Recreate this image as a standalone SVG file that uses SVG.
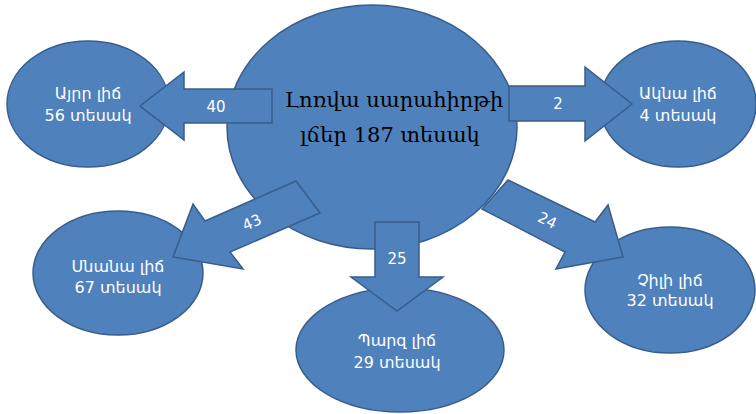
<svg xmlns="http://www.w3.org/2000/svg" width="756" height="414" viewBox="0 0 756 414">
<style>
.n{fill:#4F81BD;stroke:#385D8A;stroke-width:1.5}
.a{fill:#4F81BD;stroke:#385D8A;stroke-width:1.5;stroke-linejoin:miter}
.t{font-family:"DejaVu Sans","Noto Sans",sans-serif;font-size:16px;fill:#FFFFFF;text-anchor:middle}
.l{font-family:"DejaVu Sans","Noto Sans",sans-serif;font-size:15px;fill:#FFFFFF;text-anchor:middle}
.c{font-family:"DejaVu Serif","Noto Serif",serif;font-size:21px;fill:#000000;text-anchor:middle}
</style>
<rect width="756" height="414" fill="#FFFFFF"/>
<g id="center">
<ellipse class="n" cx="372" cy="127" rx="145" ry="122"/>
</g>
<g id="ayrr">
<ellipse class="n" cx="88" cy="104" rx="81" ry="63"/>
<text class="t" x="88" y="99">Այրր  լիճ</text>
<text class="t" x="88" y="121">56 տեսակ</text>
</g>
<g id="akna">
<ellipse class="n" cx="678" cy="104" rx="78" ry="63"/>
<text class="t" x="678" y="99">Ակնա լիճ</text>
<text class="t" x="678" y="121">4 տեսակ</text>
</g>
<g id="snana">
<ellipse class="n" cx="118" cy="273" rx="85" ry="62"/>
<text class="t" x="118" y="272">Սնանա լիճ</text>
<text class="t" x="118" y="293">67 տեսակ</text>
</g>
<g id="parz">
<ellipse class="n" cx="400" cy="350" rx="104" ry="62"/>
<text class="t" x="397" y="346">Պարզ լիճ</text>
<text class="t" x="397" y="368">29 տեսակ</text>
</g>
<g id="chili">
<ellipse class="n" cx="670" cy="290" rx="85" ry="63"/>
<text class="t" x="670" y="286">Չիլի լիճ</text>
<text class="t" x="670" y="306">32 տեսակ</text>
</g>
<g id="connectors">
<polygon class="a" points="272,89 184,89 184,72 140,106 184,140 184,123 272,123"/>
<polygon class="a" points="509,86 585,86 585,67 632,104 585,141 585,121 509,121"/>
<polygon class="a" points="296,181 205,221 193,204 173,257 243,269 230,252 320,213"/>
<polygon class="a" points="375,222 419,222 419,277 443,277 397,311 351,277 375,277"/>
<polygon class="a" points="508,180 595,222 608,205 623,257 556,269 565,252 482,209"/>
<text class="l" x="216" y="112">40</text>
<text class="l" x="558" y="109">2</text>
<text class="l" x="397" y="264">25</text>
<text class="l" transform="translate(254,227) rotate(-24)">43</text>
<text class="l" transform="translate(545,225) rotate(26)">24</text>
</g>
<g id="center-label">
<text class="c" x="394" y="107">Լոռվա սարահիրթի</text>
<text class="c" x="390" y="142">լճեր 187 տեսակ</text>
</g>
</svg>
